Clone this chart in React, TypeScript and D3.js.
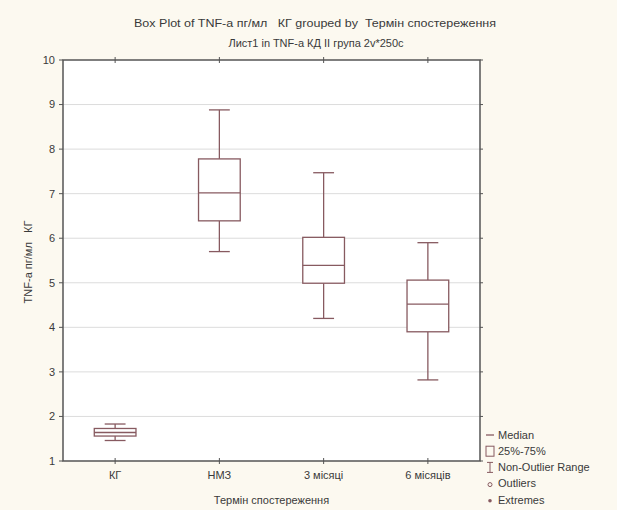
import * as d3 from 'd3';

// Box plot data
const categories = ['КГ', 'НМЗ', '3 місяці', '6 місяців'];
const whiskerLow = [1.46, 5.7, 4.2, 2.82];
const q1 = [1.56, 6.39, 4.99, 3.9];
const medians = [1.64, 7.02, 5.39, 4.52];
const q3 = [1.73, 7.78, 6.02, 5.06];
const whiskerHigh = [1.83, 8.88, 7.47, 5.9];
const yTicks = [1, 2, 3, 4, 5, 6, 7, 8, 9, 10];
const legendItems = ['Median', '25%-75%', 'Non-Outlier Range', 'Outliers', 'Extremes'];

const W = 617;
const H = 510;
const margin = { top: 60, right: 137, bottom: 49, left: 63 };
const FONT = '"Liberation Sans", Arial, sans-serif';
const BOX = '#875a60';
const AXIS = '#555';
const TEXT = '#3a3a3a';
const NB = '\u00A0';

export default function App() {
    const innerW = W - margin.left - margin.right;
    const innerH = H - margin.top - margin.bottom;

    const x = d3.scaleBand<string>().domain(categories).range([0, innerW]);
    const y = d3.scaleLinear().domain([1, 10]).range([innerH, 0]);

    const boxW = x.bandwidth() * 0.4;
    const capW = x.bandwidth() * 0.2;

    const legendX = margin.left + innerW + 6;
    const legendY0 = 435;

    return (
        <svg
            width={W}
            height={H}
            style={{ position: 'absolute', left: 0, top: 0, display: 'block' }}
            fontFamily={FONT}
        >
            <rect width={W} height={H} fill="#fcf9f0" />

            {/* Titles */}
            <text x={315} y={27} textAnchor="middle" fontSize={11} fill={TEXT} textLength={362} lengthAdjust="spacingAndGlyphs">
                {`Box Plot of TNF-a пг/мл ${NB}${NB}КГ grouped by ${NB}Термін спостереження`}
            </text>
            <text x={316} y={47} textAnchor="middle" fontSize={11} fill={TEXT}>
                {'Лист1 in TNF-a КД II група 2v*250c'}
            </text>

            <g transform={`translate(${margin.left},${margin.top})`}>
                <rect width={innerW} height={innerH} fill="#ffffff" />

                {/* Grid */}
                {yTicks.slice(1, -1).map((t) => (
                    <line key={`g${t}`} x1={0} x2={innerW} y1={y(t)} y2={y(t)} stroke="#dcdcdc" strokeWidth={1} />
                ))}

                {/* Boxes */}
                {categories.map((c, i) => {
                    const cx = (x(c) ?? 0) + x.bandwidth() / 2;
                    return (
                        <g key={c} stroke={BOX} strokeWidth={1.3} fill="none">
                            <line x1={cx} x2={cx} y1={y(whiskerHigh[i])} y2={y(q3[i])} />
                            <line x1={cx} x2={cx} y1={y(q1[i])} y2={y(whiskerLow[i])} />
                            <line x1={cx - capW / 2} x2={cx + capW / 2} y1={y(whiskerHigh[i])} y2={y(whiskerHigh[i])} />
                            <line x1={cx - capW / 2} x2={cx + capW / 2} y1={y(whiskerLow[i])} y2={y(whiskerLow[i])} />
                            <rect
                                x={cx - boxW / 2}
                                y={y(q3[i])}
                                width={boxW}
                                height={y(q1[i]) - y(q3[i])}
                                fill="#ffffff"
                            />
                            <line x1={cx - boxW / 2} x2={cx + boxW / 2} y1={y(medians[i])} y2={y(medians[i])} />
                        </g>
                    );
                })}

                {/* Frame */}
                <rect width={innerW} height={innerH} fill="none" stroke={AXIS} strokeWidth={1.5} />

                {/* Y ticks left and right */}
                {yTicks.map((t) => (
                    <g key={`t${t}`} stroke={AXIS} strokeWidth={1}>
                        <line x1={-4} x2={0} y1={y(t)} y2={y(t)} />
                        <line x1={innerW} x2={innerW + 3} y1={y(t)} y2={y(t)} />
                    </g>
                ))}
                {yTicks.map((t) => (
                    <text
                        key={`l${t}`}
                        x={-8}
                        y={y(t)}
                        dy="0.35em"
                        textAnchor="end"
                        fontSize={11}
                        fill={TEXT}
                    >
                        {t}
                    </text>
                ))}

                {/* X ticks top and bottom */}
                {categories.map((c) => {
                    const cx = (x(c) ?? 0) + x.bandwidth() / 2;
                    return (
                        <g key={`xt${c}`} stroke={AXIS} strokeWidth={1}>
                            <line x1={cx} x2={cx} y1={-3} y2={3} />
                            <line x1={cx} x2={cx} y1={innerH - 3} y2={innerH + 3} />
                        </g>
                    );
                })}
                {categories.map((c) => (
                    <text
                        key={`xl${c}`}
                        x={(x(c) ?? 0) + x.bandwidth() / 2}
                        y={innerH + 18}
                        textAnchor="middle"
                        fontSize={11}
                        fill={TEXT}
                    >
                        {c}
                    </text>
                ))}

                {/* Axis titles */}
                <text x={innerW / 2} y={innerH + 43} textAnchor="middle" fontSize={11} fill={TEXT}>
                    Термін спостереження
                </text>
                <text
                    transform={`translate(${28 - margin.left},${262 - margin.top}) rotate(-90)`}
                    textAnchor="middle"
                    dy="0.35em"
                    fontSize={11}
                    fill={TEXT}
                >
                    {`TNF-a пг/мл ${NB}${NB}КГ`}
                </text>
            </g>

            {/* Legend */}
            <g fontSize={11} fill={TEXT}>
                {legendItems.map((label, i) => {
                    const ly = legendY0 + i * 16.2;
                    return (
                        <g key={label}>
                            {i === 0 && <line x1={legendX} x2={legendX + 8} y1={ly} y2={ly} stroke={BOX} strokeWidth={1.3} />}
                            {i === 1 && (
                                <rect x={legendX} y={ly - 5} width={8} height={10} fill="none" stroke={BOX} strokeWidth={1} />
                            )}
                            {i === 2 && (
                                <g stroke={BOX} strokeWidth={1}>
                                    <line x1={legendX + 4} x2={legendX + 4} y1={ly - 5} y2={ly + 5} />
                                    <line x1={legendX + 1} x2={legendX + 7} y1={ly - 5} y2={ly - 5} />
                                    <line x1={legendX + 1} x2={legendX + 7} y1={ly + 5} y2={ly + 5} />
                                </g>
                            )}
                            {i === 3 && <circle cx={legendX + 4} cy={ly + 1} r={2} fill="none" stroke={BOX} strokeWidth={1} />}
                            {i === 4 && <circle cx={legendX + 4} cy={ly + 1} r={1.8} fill={BOX} />}
                            <text x={legendX + 12} y={ly} dy="0.35em">
                                {label}
                            </text>
                        </g>
                    );
                })}
            </g>
        </svg>
    );
}
